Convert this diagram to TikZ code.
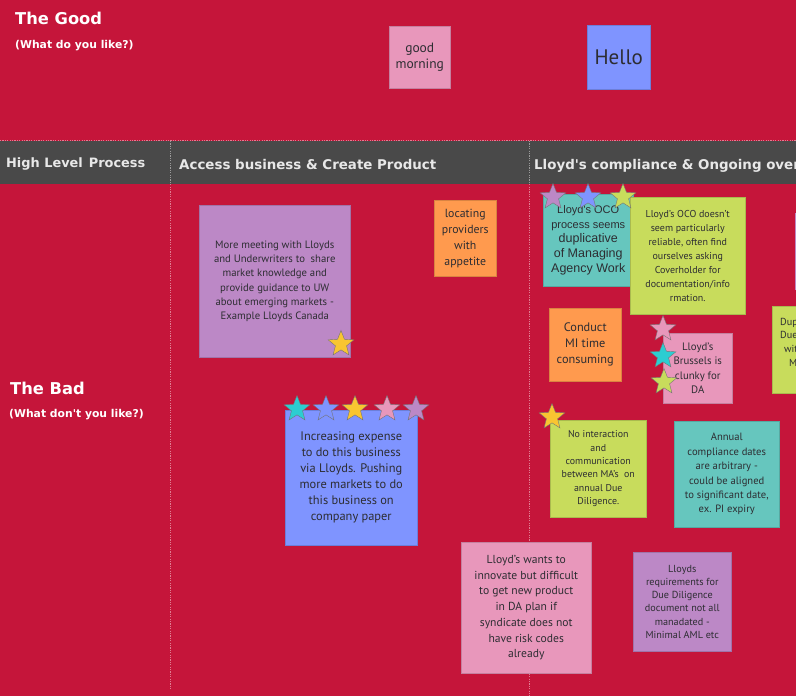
\documentclass[tikz,border=0pt]{standalone}
\usepackage{fontspec}
\setmainfont{PT Sans}
\newfontfamily\libsans{Liberation Sans}
\newfontfamily\headfont{DejaVu Sans}
\usetikzlibrary{shapes.geometric}
\definecolor{bgred}{RGB}{197,21,58}
\definecolor{band}{RGB}{73,73,73}
\definecolor{bandtxt}{RGB}{232,232,232}
\definecolor{npink}{RGB}{232,151,187}
\definecolor{nblue}{RGB}{127,148,255}
\definecolor{npurple}{RGB}{188,136,198}
\definecolor{norange}{RGB}{255,154,78}
\definecolor{nteal}{RGB}{102,198,190}
\definecolor{nlime}{RGB}{200,220,92}
\definecolor{syellow}{RGB}{249,197,49}
\definecolor{scyan}{RGB}{44,205,209}
\definecolor{ntext}{RGB}{45,45,50}
\tikzset{
  note/.style={fill=#1, draw=#1!85!black, line width=0.5pt, anchor=north west,
    inner sep=0pt, align=center, text=ntext},
  fs/.style 2 args={font={\fontsize{#1}{#2}\selectfont}},
  starmark/.style={star, star points=5, star point ratio=2.3, minimum size=27pt,
    inner sep=0pt, fill=#1, draw=black!55, line width=0.4pt},
  divider/.style={draw=white, opacity=0.45, line width=0.6pt, dash pattern=on 1.2pt off 1.2pt},
  headtxt/.style={text=white, anchor=base west, inner sep=0pt, font={\headfont\bfseries\fontsize{#1}{#1}\selectfont}},
  bandlbl/.style={text=bandtxt, anchor=base west, inner sep=0pt, font={\headfont\bfseries\fontsize{#1}{#1}\selectfont}}
}
\begin{document}
\begin{tikzpicture}[x=1pt,y=-1pt]
\useasboundingbox (0,0) rectangle (796,696);
\fill[bgred] (0,0) rectangle (796,696);
% header band
\fill[band] (0,141) rectangle (796,184);
\draw[divider] (0,140.5) -- (796,140.5);
\coordinate (d1top) at (170,141);
\coordinate (d1bot) at (170,690);
\coordinate (d2top) at (529,141);
\coordinate (d2bot) at (529,696);
\draw[divider] (d1top) -- (d1bot);
\draw[divider] (d2top) -- (d2bot);

% section titles
\node[headtxt=16.3] (good) at (15,24) {The Good};
\node[headtxt=10.8] (goodq) at (15,48) {(What do you like?)};
\node[headtxt=16.3] (bad) at (10,394) {The Bad};
\node[headtxt=10.8] (badq) at (9,417) {(What don't you like?)};

% band labels
\node[bandlbl=12.9] (hlp) at (6,167) {High Level\hspace{6pt}Process};
\node[bandlbl=13.4] (abc) at (179,169) {Access business \& Create Product};
\node[bandlbl=13.4] (lco) at (534,169) {Lloyd's compliance \& Ongoing oversight};

% The Good notes
\node[note=npink, minimum width=61pt, minimum height=62pt, fs={13.5}{16.7}] (gm) at (389,26) {good\\morning};
\node[note=nblue, minimum width=63pt, minimum height=64pt, fs={21}{24}] (hello) at (587,25) {Hello};

% The Bad notes
\node[note=npurple, minimum width=151pt, minimum height=152pt, fs={10.7}{14.3}] (meet) at (199,205)
 {More meeting with Lloyds\\and Underwriters to\ \ share\\market knowledge and\\provide guidance to UW\\about emerging markets -\\Example Lloyds Canada};
\node[note=norange, minimum width=62pt, minimum height=76pt, fs={11.8}{16}] (loc) at (434,200)
 {locating\\providers\\with\\appetite};
\node[note=nblue, minimum width=132pt, minimum height=135pt, fs={12.4}{16}] (expense) at (285,410)
 {Increasing expense\\to\ do this business\\via Lloyds. Pushing\\more markets to do\\this business on\\company paper};
\node[note=nteal, minimum width=90pt, minimum height=92pt, text=ntext,
  font={\libsans\fontsize{11}{14.6}\selectfont}] (oco) at (543,194)
 {Lloyd's OCO\\process seems\\{\fontsize{12.5}{14.6}\selectfont duplicative}\\{\fontsize{12.5}{14.6}\selectfont of Managing}\\{\fontsize{12.5}{14.6}\selectfont Agency Work}};
\node[note=nlime, minimum width=115pt, minimum height=117pt, fs={10}{14}] (ocorel) at (630,197)
 {Lloyd's OCO doesn't\\seem particularly\\reliable, often find\\ourselves asking\\Coverholder for\\documentation/info\\rmation.};
\node[note=norange, minimum width=72pt, minimum height=73pt, fs={12.3}{16}] (mi) at (549,308)
 {Conduct\\MI time\\consuming};
\node[note=npink, minimum width=69pt, minimum height=70pt, fs={10.8}{14.5}] (brussels) at (663,333)
 {Lloyd's\\Brussels is\\clunky for\\DA};
\node[note=nlime, minimum width=96pt, minimum height=97pt, fs={9.9}{13.3}] (noint) at (550,420)
 {No interaction\\and\\communication\\between MA's\ \ on\\annual Due\\Diligence.};
\node[note=nteal, minimum width=105pt, minimum height=106pt, fs={10.6}{14.4}] (annual) at (674,421)
 {Annual\\compliance dates\\are arbitrary -\\could be aligned\\to significant date,\\ex. PI expiry};
\node[note=npink, minimum width=130pt, minimum height=131pt, fs={11.6}{15.7}] (innov) at (461,542)
 {Lloyd's wants to\\innovate but difficult\\to get new product\\in DA plan if\\syndicate does not\\have risk codes\\already};
\node[note=npurple, minimum width=98pt, minimum height=99pt, fs={10.2}{13.3}] (req) at (633,552)
 {Lloyds\\requirements for\\Due Diligence\\document not all\\manadated -\\Minimal AML etc};

% partial notes at right edge
\fill[npurple] (794.5,213) rectangle (797,290);
\node[note=nlime, minimum width=30pt, minimum height=87pt] (dup) at (772,306) {};
\node[anchor=base west, inner sep=0pt, text=ntext, fs={10.2}{13}] (dup1) at (780,325) {Dup};
\node[anchor=base west, inner sep=0pt, text=ntext, fs={10.2}{13}] (dup2) at (780,338) {Due};
\node[anchor=base west, inner sep=0pt, text=ntext, fs={10.2}{13}] (dup3) at (784,352) {wit};
\node[anchor=base west, inner sep=0pt, text=ntext, fs={10.2}{13}] (dup4) at (789,366) {M};

% stars
\node[starmark=syellow] (s1) at (341,344) {};
\node[starmark=scyan] (s2) at (297,409) {};
\node[starmark=nblue] (s3) at (326,409) {};
\node[starmark=syellow] (s4) at (355,409) {};
\node[starmark=npink] (s5) at (387,409) {};
\node[starmark=npurple] (s6) at (416,409) {};
\node[starmark=npurple] (s7) at (553,197) {};
\node[starmark=nblue] (s8) at (588,197) {};
\node[starmark=nlime] (s9) at (623,197) {};
\node[starmark=npink] (s10) at (663,329) {};
\node[starmark=scyan] (s11) at (663,356) {};
\node[starmark=nlime] (s12) at (664,382) {};
\node[starmark=syellow] (s13) at (552,417) {};
\end{tikzpicture}
\end{document}
